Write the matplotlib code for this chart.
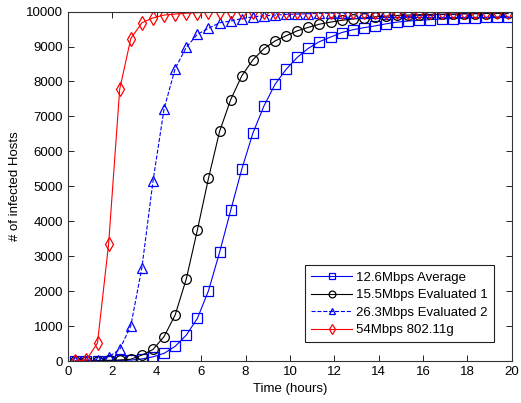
import matplotlib
matplotlib.use("Agg")
import matplotlib.pyplot as plt

# sample times (hours)
hours = [0.33, 0.83, 1.33, 1.83, 2.33, 2.83, 3.33, 3.83, 4.33, 4.83,
         5.33, 5.83, 6.33, 6.83, 7.33, 7.83, 8.33, 8.83, 9.33, 9.83,
         10.33, 10.83, 11.33, 11.83, 12.33, 12.83, 13.33, 13.83, 14.33, 14.83,
         15.33, 15.83, 16.33, 16.83, 17.33, 17.83, 18.33, 18.83, 19.33, 19.83]

avg_12_6 = [0, 3, 6, 10, 15, 25, 60, 120, 220, 420,
            740, 1220, 2010, 3110, 4310, 5490, 6520, 7300, 7920, 8350,
            8690, 8950, 9140, 9270, 9400, 9480, 9540, 9590, 9650, 9700,
            9730, 9750, 9770, 9790, 9800, 9815, 9825, 9835, 9845, 9855]

eval1_15_5 = [0, 5, 10, 20, 30, 50, 170, 330, 700, 1320,
              2350, 3750, 5230, 6570, 7480, 8160, 8620, 8940, 9160, 9310,
              9450, 9550, 9640, 9700, 9750, 9790, 9820, 9850, 9870, 9890,
              9900, 9910, 9920, 9925, 9930, 9935, 9940, 9945, 9948, 9950]

eval2_26_3 = [0, 10, 40, 120, 330, 1010, 2670, 5150, 7220, 8370,
              8980, 9350, 9520, 9680, 9730, 9800, 9850, 9880, 9900, 9920,
              9930, 9940, 9950, 9955, 9960, 9965, 9970, 9972, 9975, 9977,
              9979, 9980, 9982, 9984, 9985, 9986, 9987, 9988, 9989, 9990]

g_54 = [0, 30, 520, 3350, 7780, 9230, 9680, 9820, 9900, 9930,
        9955, 9970, 9980, 9985, 9990, 9992, 9994, 9995, 9996, 9997,
        9997, 9998, 9998, 9998, 9999, 9999, 9999, 9999, 9999, 9999,
        10000, 10000, 10000, 10000, 10000, 10000, 10000, 10000, 10000, 10000]

labels = ["12.6Mbps Average", "15.5Mbps Evaluated 1",
          "26.3Mbps Evaluated 2", "54Mbps 802.11g"]

plt.rcParams['font.family'] = ['Liberation Sans', 'DejaVu Sans']
plt.rcParams['font.size'] = 9.5

fig = plt.figure(figsize=(5.21, 4.03), dpi=100)
ax = fig.add_axes([0.1305, 0.1042, 0.852, 0.867])

ms = 7
lw = 0.8
ax.plot(hours, avg_12_6, color='#0000ff', ls='-', lw=lw, marker='s',
        ms=ms, mfc='none', mew=0.9, label=labels[0])
ax.plot(hours, eval1_15_5, color='black', ls='-', lw=lw, marker='o',
        ms=ms, mfc='none', mew=0.9, label=labels[1])
ax.plot(hours, eval2_26_3, color='#0000ff', ls='--', lw=lw, marker='^',
        ms=ms, mfc='none', mew=0.9, label=labels[2])
ax.plot(hours, g_54, color='red', ls='-', lw=lw, marker='d',
        ms=ms, mfc='none', mew=0.9, label=labels[3])

ax.set_xlim(0, 20)
ax.set_ylim(0, 10000)
ax.set_xticks(range(0, 21, 2))
ax.set_yticks(range(0, 10001, 1000))
ax.tick_params(direction='in', top=True, right=True, length=4, width=0.6)
for s in ax.spines.values():
    s.set_linewidth(0.8)
    s.set_color('#333333')

ax.set_xlabel("Time (hours)")
ax.set_ylabel("# of infected Hosts")

leg = ax.legend(loc='lower right', bbox_to_anchor=(0.959, 0.054),
                borderaxespad=0, fancybox=False, framealpha=1,
                edgecolor='#222222', handlelength=3.1, labelspacing=0.4,
                borderpad=0.45, handletextpad=0.3, markerscale=0.7)
leg.get_frame().set_linewidth(0.8)

fig.savefig("out.png", dpi=100)
